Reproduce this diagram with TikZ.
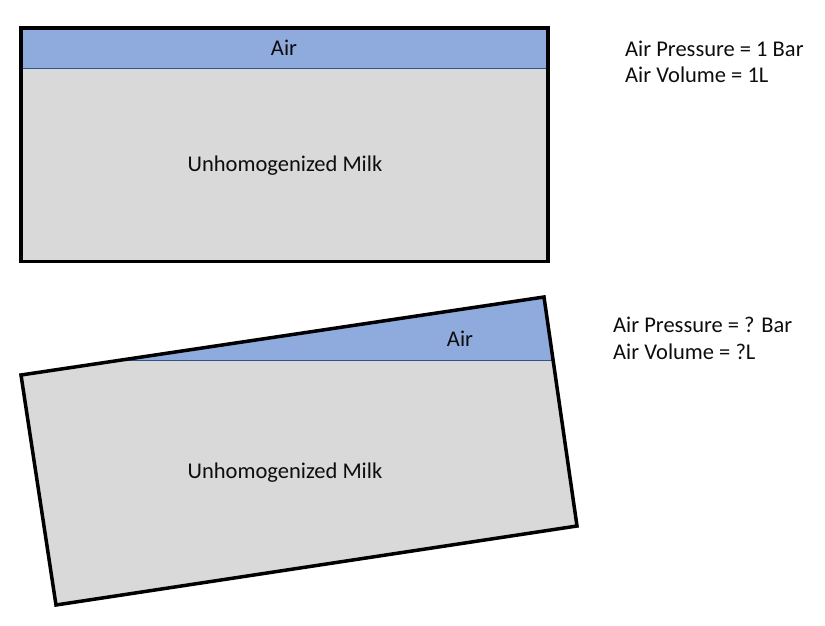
\documentclass[tikz,border=0pt]{standalone}
\usepackage{fontspec}
\setmainfont{Carlito}
\definecolor{airblue}{HTML}{8FAADC}
\definecolor{milkgray}{HTML}{D9D9D9}
\definecolor{lineblue}{HTML}{2F528F}
\definecolor{txt}{HTML}{0D0D0D}
\tikzset{
  lbl/.style={anchor=base, inner sep=0pt, font=\fontsize{22.5}{26}\selectfont, text=txt},
  info/.style={anchor=base west, inner sep=0pt, font=\fontsize{22.5}{26}\selectfont, text=txt},
  border/.style={draw=black, line width=3.5pt, line join=miter},
  surface/.style={draw=lineblue, line width=1pt}
}
\begin{document}
\begin{tikzpicture}[x=1pt,y=-1pt]
\useasboundingbox (0,0) rectangle (825,626);
% top container
\fill[milkgray] (21,28) rectangle (548,261.5);
\fill[airblue] (21,28) rectangle (548,69);
\draw[surface] (21,69) -- (548,69);
\draw[border] (21,28) rectangle (548,261.5);
\node[lbl] (air1) at (284,56) {Air};
\node[lbl] (milk1) at (285,171.5) {Unhomogenized Milk};
\node[info] (p1) at (625,56.5) {Air Pressure = 1 Bar};
\node[info] (v1) at (625,83) {Air Volume = 1L};
% tilted container
\coordinate (tl) at (21,375);
\coordinate (tr) at (544,297);
\coordinate (br) at (577,526);
\coordinate (bl) at (56,605);
\begin{scope}
  \clip (tl) -- (tr) -- (br) -- (bl) -- cycle;
  \fill[milkgray] (0,250) rectangle (640,626);
  \fill[airblue] (0,250) rectangle (640,360);
  \draw[surface] (0,360) -- (640,360);
\end{scope}
\draw[border] (tl) -- (tr) -- (br) -- (bl) -- cycle;
\node[lbl] (air2) at (460,346.5) {Air};
\node[lbl] (milk2) at (285,478.5) {Unhomogenized Milk};
\node[info] (p2) at (613,332.5) {Air Pressure = ? Bar};
\node[info] (v2) at (613,359) {Air Volume = ?L};
\end{tikzpicture}
\end{document}
